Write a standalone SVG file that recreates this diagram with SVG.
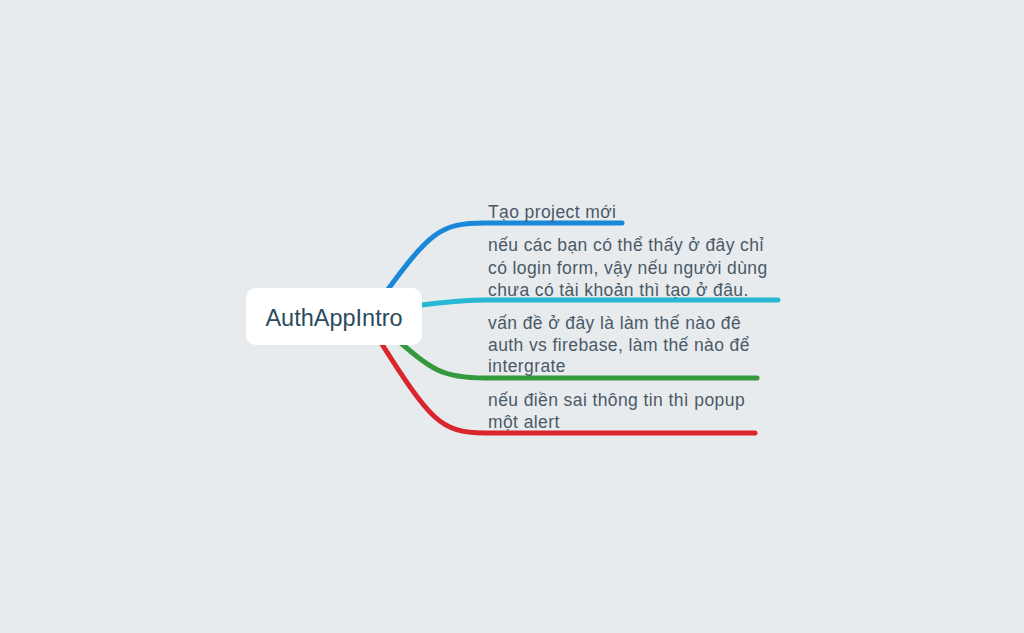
<svg xmlns="http://www.w3.org/2000/svg" width="1024" height="633" viewBox="0 0 1024 633">
<style>
.br{fill:none;stroke-width:5;stroke-linecap:round;stroke-linejoin:round}
.t{font-family:"Liberation Sans","Noto Sans",Arial,sans-serif;font-size:17.5px;letter-spacing:0.4px;fill:#4b5966}
.root{font-family:"Liberation Sans","Noto Sans",Arial,sans-serif;font-size:23.5px;fill:#2c4b5c}
</style>
<rect width="1024" height="633" fill="#e7ebee"/>
<g id="connectors">
<path class="br" stroke="#1a88d8" d="M383 296 C430 232 440 223 485 223 L622 223"/>
<path class="br" stroke="#27b8d3" d="M410 306 C440 303 460 300 485 300 L778 300"/>
<path class="br" stroke="#34993a" d="M395 338 C432 370 442 378 485 378 L757 378"/>
<path class="br" stroke="#d9252b" d="M378 338 C430 420 440 433 485 433 L755 433"/>
</g>
<g id="root">
<rect x="246" y="288" width="176" height="57" rx="10" fill="#ffffff"/>
<text class="root" x="334" y="326" text-anchor="middle">AuthAppIntro</text>
</g>
<g id="n1"><text class="t" x="488" y="218">Tạo project mới</text></g>
<g id="n2"><text class="t" x="488" y="251">nếu các bạn có thể thấy ở đây chỉ</text>
<text class="t" x="488" y="274">có login form, vậy nếu người dùng</text>
<text class="t" x="488" y="296">chưa có tài khoản thì tạo ở đâu.</text></g>
<g id="n3"><text class="t" x="488" y="329">vấn đề ở đây là làm thế nào đê</text>
<text class="t" x="488" y="351">auth vs firebase, làm thế nào để</text>
<text class="t" x="488" y="372">intergrate</text></g>
<g id="n4"><text class="t" x="488" y="406">nếu điền sai thông tin thì popup</text>
<text class="t" x="488" y="428">một alert</text></g>
</svg>
